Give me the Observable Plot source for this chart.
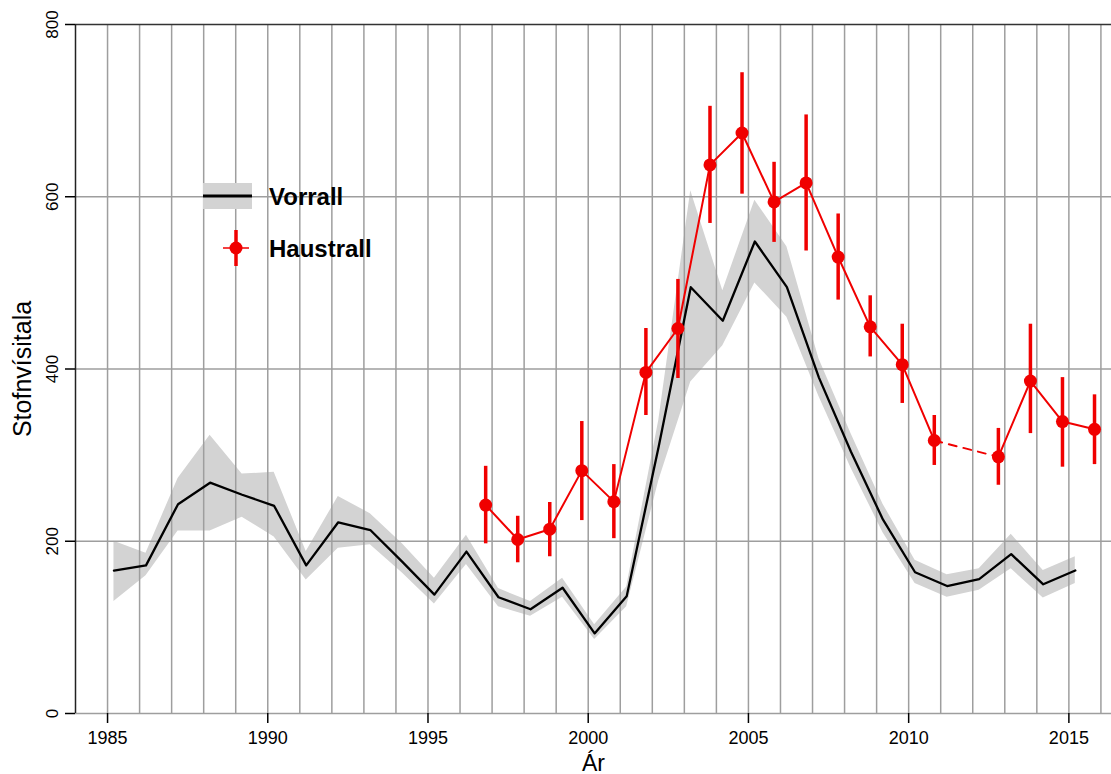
<!DOCTYPE html>
<html>
<head>
<meta charset="utf-8">
<script src="https://cdn.jsdelivr.net/npm/d3@7"></script>
<script src="https://cdn.jsdelivr.net/npm/@observablehq/plot@0.6"></script>
<style>
  html, body { margin: 0; padding: 0; background: #fff; overflow: hidden; }
  #wrap { position: relative; width: 1111px; height: 774px; }
  #legend { position: absolute; left: 0; top: 0; pointer-events: none; }
</style>
</head>
<body>
<div id="wrap"></div>
<script>
// ---- Data ----
// Vorrall (spring survey), plotted at year + 0.2
const vYears = [1985,1986,1987,1988,1989,1990,1991,1992,1993,1994,1995,1996,1997,1998,1999,2000,2001,2002,2003,2004,2005,2006,2007,2008,2009,2010,2011,2012,2013,2014,2015];
const vValue = [166,172,243,268,254,241,172,222,213,176,138,188,135,121,146,93,136,310,495,456,548,495,390,304,225,164,148,156,185,150,166];
const vLow   = [130,160,212,212,228,205,155,192,196,163,127,173,124,113,135,86,124,270,385,427,500,460,368,285,210,151,135,143,168,134,151];
const vHigh  = [200,186,273,323,278,280,188,252,232,197,157,207,145,130,157,103,147,340,607,491,596,542,412,325,243,178,161,168,208,166,182];

// Haustrall (autumn survey), plotted at year + 0.8; no survey in 2011
const hYears = [1996,1997,1998,1999,2000,2001,2002,2003,2004,2005,2006,2007,2008,2009,2010,2011,2012,2013,2014,2015];
const hValue = [242,202,214,282,246,396,447,637,674,594,616,530,449,405,317,null,298,386,339,330];
const hLow   = [197,175,182,224,203,346,389,569,603,547,537,480,414,360,288,null,265,325,286,289];
const hHigh  = [287,229,245,339,289,447,504,705,744,640,695,580,485,452,346,null,331,452,390,370];

const xTickValues = [1985,1990,1995,2000,2005,2010,2015];
const yTickValues = [0,200,400,600,800];
const gridYears = [1985,1986,1987,1988,1989,1990,1991,1992,1993,1994,1995,1996,1997,1998,1999,2000,2001,2002,2003,2004,2005,2006,2007,2008,2009,2010,2011,2012,2013,2014,2015,2016];

const xLabel = "Ár";
const yLabel = "Stofnvísitala";
const legendLabels = ["Vorrall", "Haustrall"];

// ---- Build tables ----
const vorrall = vYears.map((yr, i) => ({t: yr + 0.2, v: vValue[i], lo: vLow[i], hi: vHigh[i]}));
const haust = hYears.map((yr, i) => ({t: yr + 0.8, v: hValue[i], lo: hLow[i], hi: hHigh[i]}));
const haustOk = haust.filter(d => d.v != null);
// dashed bridge across the missing survey
const gapIdx = haust.findIndex(d => d.v == null);
const bridge = gapIdx > 0 ? [haust[gapIdx - 1], haust[gapIdx + 1]] : [];

const RED = "#f00000";
const FONT = "'Liberation Sans', Arial, Helvetica, sans-serif";
const xDomain = [1984, 2016.33];

const chart = Plot.plot({
  width: 1111,
  height: 774,
  marginLeft: 75,
  marginRight: 0,
  marginTop: 24,
  marginBottom: 61,
  style: {fontFamily: FONT, background: "#fff", overflow: "visible"},
  x: {domain: xDomain, axis: null},
  y: {domain: [0, 800], axis: null},
  marks: [
    Plot.areaY(vorrall, {x: "t", y1: "lo", y2: "hi", fill: "#d3d3d3", curve: "linear"}),
    Plot.ruleX(gridYears, {stroke: "#9e9e9e", strokeWidth: 1.5}),
    Plot.ruleY(yTickValues.slice(0, -1), {stroke: "#9e9e9e", strokeWidth: 1.5}),
    Plot.ruleY([d3.max(yTickValues)], {stroke: "#333", strokeWidth: 1.5}),
    Plot.ruleX([xDomain[0]], {stroke: "#222", strokeWidth: 1.5}),
    Plot.line(vorrall, {x: "t", y: "v", stroke: "#000", strokeWidth: 2.3}),
    Plot.line(haust, {x: "t", y: "v", stroke: RED, strokeWidth: 2}),
    Plot.line(bridge, {x: "t", y: "v", stroke: RED, strokeWidth: 2, strokeDasharray: "8,7"}),
    Plot.ruleX(haustOk, {x: "t", y1: "lo", y2: "hi", stroke: RED, strokeWidth: 3.5}),
    Plot.dot(haustOk, {x: "t", y: "v", r: 6.5, fill: RED, stroke: "none"}),
    // axes: tick marks
    Plot.axisX(xTickValues, {tickSize: 10, tickFormat: () => "", label: null, stroke: "#000", strokeWidth: 1.5}),
    Plot.axisY(yTickValues, {tickSize: 10, tickFormat: () => "", label: null, stroke: "#000", strokeWidth: 1.5}),
    // tick labels
    Plot.text(xTickValues, {x: d => d, frameAnchor: "bottom", dy: 25, lineAnchor: "middle", textAnchor: "middle", fontSize: 18, fill: "#000", text: d => String(d)}),
    Plot.text(yTickValues, {y: d => d, frameAnchor: "left", dx: -23, rotate: -90, textAnchor: "middle", lineAnchor: "middle", fontSize: 17, fill: "#000", text: d => String(d)}),
    // axis titles
    Plot.text([xLabel], {frameAnchor: "bottom", dy: 50, textAnchor: "middle", lineAnchor: "middle", fontSize: 23, fill: "#000"}),
    Plot.text([yLabel], {frameAnchor: "left", dx: -53, rotate: -90, textAnchor: "middle", lineAnchor: "middle", fontSize: 25, fill: "#000"})
  ]
});

const wrap = document.getElementById("wrap");
wrap.appendChild(chart);

// ---- Legend overlay ----
const leg = d3.select(wrap).append("svg")
  .attr("id", "legend")
  .attr("width", 1111).attr("height", 774);
const g1 = leg.append("g");
g1.append("rect").attr("x", 203).attr("y", 183).attr("width", 49).attr("height", 26).attr("fill", "#d3d3d3");
g1.append("line").attr("x1", 203).attr("x2", 252).attr("y1", 196).attr("y2", 196).attr("stroke", "#000").attr("stroke-width", 3);
g1.append("text").attr("x", 269).attr("y", 205).attr("font-family", FONT).attr("font-weight", "bold").attr("font-size", 24).text(legendLabels[0]);
const g2 = leg.append("g");
g2.append("line").attr("x1", 223).attr("x2", 249).attr("y1", 248).attr("y2", 248).attr("stroke", RED).attr("stroke-width", 1.5);
g2.append("line").attr("x1", 236).attr("x2", 236).attr("y1", 230).attr("y2", 266).attr("stroke", RED).attr("stroke-width", 3.5);
g2.append("circle").attr("cx", 236).attr("cy", 248).attr("r", 6.5).attr("fill", RED);
g2.append("text").attr("x", 269).attr("y", 257).attr("font-family", FONT).attr("font-weight", "bold").attr("font-size", 24).text(legendLabels[1]);
</script>
</body>
</html>
